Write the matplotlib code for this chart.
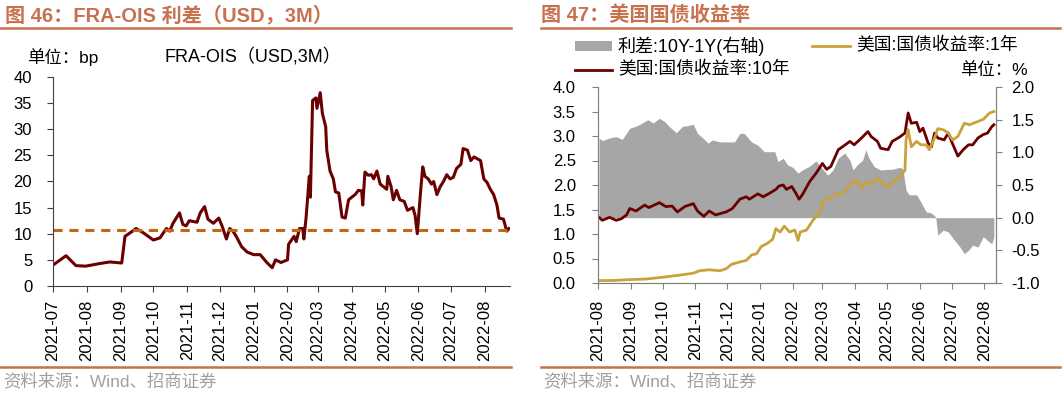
import numpy as np
import pandas as pd
import matplotlib
matplotlib.use("Agg")
import matplotlib.pyplot as plt
import matplotlib.dates as mdates

plt.rcParams['font.family'] = ['Liberation Sans', 'Noto Sans CJK SC', 'DejaVu Sans']

# ---- Fig 46: FRA-OIS spread (USD, 3M), bp ----
fra_dates = [
    "2021-07-01", "2021-07-13", "2021-07-22", "2021-07-31", "2021-08-13", "2021-08-22",
    "2021-09-02", "2021-09-05", "2021-09-12", "2021-09-15", "2021-09-21", "2021-10-01",
    "2021-10-07", "2021-10-13", "2021-10-16", "2021-10-19", "2021-10-25", "2021-10-28",
    "2021-10-31", "2021-11-03", "2021-11-10", "2021-11-13", "2021-11-17", "2021-11-20",
    "2021-11-25", "2021-11-30", "2021-12-03", "2021-12-07", "2021-12-10", "2021-12-13",
    "2021-12-16", "2021-12-21", "2021-12-26", "2022-01-01", "2022-01-07", "2022-01-13",
    "2022-01-18", "2022-01-21", "2022-01-26", "2022-02-01", "2022-02-02", "2022-02-07",
    "2022-02-09", "2022-02-12", "2022-02-15", "2022-02-16", "2022-02-18", "2022-02-21",
    "2022-02-22", "2022-02-24", "2022-02-27", "2022-02-28", "2022-03-03", "2022-03-05",
    "2022-03-08", "2022-03-09", "2022-03-12", "2022-03-15", "2022-03-17", "2022-03-20",
    "2022-03-23", "2022-03-26", "2022-03-29", "2022-04-01", "2022-04-04", "2022-04-07",
    "2022-04-10", "2022-04-11", "2022-04-13", "2022-04-16", "2022-04-19", "2022-04-21",
    "2022-04-24", "2022-04-27", "2022-04-30", "2022-05-03", "2022-05-04", "2022-05-07",
    "2022-05-09", "2022-05-12", "2022-05-15", "2022-05-19", "2022-05-22", "2022-05-27",
    "2022-05-29", "2022-05-31", "2022-06-03", "2022-06-05", "2022-06-07", "2022-06-10",
    "2022-06-13", "2022-06-15", "2022-06-18", "2022-06-21", "2022-06-24", "2022-06-27",
    "2022-06-30", "2022-07-03", "2022-07-06", "2022-07-10", "2022-07-12", "2022-07-16",
    "2022-07-19", "2022-07-22", "2022-07-28", "2022-07-31", "2022-08-03", "2022-08-06",
    "2022-08-09", "2022-08-12", "2022-08-14", "2022-08-18", "2022-08-21", "2022-08-23",
]
fra_vals = [
    4.0, 5.8, 3.9, 3.8, 4.3, 4.6,
    4.4, 9.5, 10.5, 11.0, 10.3, 8.8,
    9.2, 11.0, 10.5, 12.0, 14.0, 11.8,
    11.5, 12.5, 12.2, 14.0, 15.2, 12.8,
    12.0, 13.0, 11.5, 9.0, 11.0, 10.5,
    9.5, 7.5, 6.5, 6.0, 6.0, 4.5,
    3.5, 5.0, 4.5, 5.0, 8.0, 9.5,
    8.5, 11.0, 11.0, 9.0, 13.0, 21.0,
    17.0, 35.5, 36.0, 34.0, 37.0, 33.0,
    30.5, 26.0, 22.0, 20.5, 18.0, 17.8,
    13.2, 13.0, 16.5, 17.0, 17.5, 18.3,
    18.2, 15.5, 21.8, 21.2, 21.3, 20.5,
    22.0, 19.5, 19.0, 18.5, 21.0, 19.0,
    16.5, 18.3, 16.5, 16.2, 14.5, 15.0,
    13.5, 10.0, 18.0, 22.8, 21.0, 20.5,
    19.5, 20.0, 17.5, 19.0, 20.0, 21.3,
    20.5, 20.8, 22.5, 23.3, 26.3, 26.0,
    24.0, 24.7, 24.0, 20.5, 19.8, 18.5,
    17.5, 15.5, 13.0, 12.8, 10.5, 11.0,
]
fra_ref = 10.8

# ---- Fig 47: US Treasury yields, % ----
y10_dates = [
    "2021-08-02", "2021-08-05", "2021-08-12", "2021-08-18", "2021-08-23", "2021-08-28",
    "2021-08-31", "2021-09-06", "2021-09-14", "2021-09-18", "2021-09-28", "2021-10-04",
    "2021-10-10", "2021-10-15", "2021-10-22", "2021-10-30", "2021-11-03", "2021-11-09",
    "2021-11-14", "2021-11-20", "2021-11-30", "2021-12-06", "2021-12-13", "2021-12-19",
    "2021-12-22", "2021-12-30", "2022-01-04", "2022-01-10", "2022-01-16", "2022-01-19",
    "2022-01-23", "2022-01-26", "2022-01-31", "2022-02-04", "2022-02-07", "2022-02-10",
    "2022-02-17", "2022-02-23", "2022-03-01", "2022-03-05", "2022-03-09", "2022-03-16",
    "2022-03-20", "2022-03-27", "2022-03-31", "2022-04-07", "2022-04-13", "2022-04-16",
    "2022-04-22", "2022-04-25", "2022-05-02", "2022-05-06", "2022-05-13", "2022-05-18",
    "2022-05-21", "2022-05-24", "2022-05-29", "2022-06-01", "2022-06-04", "2022-06-09",
    "2022-06-12", "2022-06-15", "2022-06-18", "2022-06-24", "2022-06-28", "2022-07-01",
    "2022-07-07", "2022-07-12", "2022-07-17", "2022-07-21", "2022-07-26", "2022-07-31",
    "2022-08-04", "2022-08-08", "2022-08-10",
]
y10_vals = [
    1.34, 1.28, 1.34, 1.28, 1.31, 1.39,
    1.52, 1.47, 1.59, 1.54, 1.64, 1.56,
    1.57, 1.45, 1.56, 1.62, 1.47, 1.36,
    1.47, 1.39, 1.45, 1.52, 1.71, 1.76,
    1.71, 1.82, 1.76, 1.83, 1.91, 1.98,
    2.00, 1.91, 1.97, 1.83, 1.71, 1.80,
    2.07, 2.24, 2.44, 2.32, 2.38, 2.72,
    2.78, 2.89, 2.82, 2.96, 3.09, 2.99,
    2.89, 2.75, 2.72, 2.89, 2.98, 3.06,
    3.47, 3.26, 3.28, 3.09, 3.16, 2.85,
    2.78, 3.06, 2.96, 2.92, 3.06, 2.89,
    2.59, 2.72, 2.82, 2.82, 2.96, 3.03,
    3.06, 3.19, 3.23,
]
y1_dates = [
    "2021-08-02", "2021-08-15", "2021-08-31", "2021-09-15", "2021-10-02", "2021-10-17",
    "2021-10-30", "2021-11-05", "2021-11-14", "2021-11-24", "2021-11-30", "2021-12-05",
    "2021-12-13", "2021-12-19", "2021-12-24", "2021-12-29", "2022-01-02", "2022-01-08",
    "2022-01-13", "2022-01-16", "2022-01-20", "2022-01-24", "2022-01-29", "2022-02-03",
    "2022-02-06", "2022-02-08", "2022-02-14", "2022-02-20", "2022-02-26", "2022-03-02",
    "2022-03-08", "2022-03-13", "2022-03-19", "2022-03-22", "2022-03-28", "2022-04-02",
    "2022-04-07", "2022-04-11", "2022-04-18", "2022-04-22", "2022-04-27", "2022-05-02",
    "2022-05-08", "2022-05-13", "2022-05-18", "2022-05-19", "2022-05-21", "2022-05-24",
    "2022-05-29", "2022-06-02", "2022-06-07", "2022-06-10", "2022-06-15", "2022-06-18",
    "2022-06-23", "2022-06-28", "2022-07-02", "2022-07-07", "2022-07-13", "2022-07-18",
    "2022-07-24", "2022-07-31", "2022-08-06", "2022-08-10",
]
y1_vals = [
    0.05, 0.05, 0.07, 0.08, 0.12, 0.16,
    0.20, 0.25, 0.27, 0.25, 0.29, 0.38,
    0.43, 0.46, 0.57, 0.60, 0.74, 0.81,
    0.89, 1.11, 1.04, 1.16, 1.04, 1.08,
    0.87, 1.04, 1.08, 1.28, 1.42, 1.69,
    1.73, 1.80, 1.83, 1.86, 2.03, 2.10,
    1.93, 2.05, 2.03, 2.14, 2.03, 1.96,
    2.10, 2.16, 2.30, 2.92, 3.13, 2.78,
    2.89, 2.82, 2.82, 2.72, 2.96, 3.15,
    3.13, 3.06, 2.92, 2.99, 3.26, 3.23,
    3.28, 3.34, 3.47, 3.50,
]
spread_dates = [
    "2021-08-02", "2021-08-05", "2021-08-12", "2021-08-18", "2021-08-24", "2021-08-31",
    "2021-09-06", "2021-09-12", "2021-09-17", "2021-09-22", "2021-09-28", "2021-10-03",
    "2021-10-07", "2021-10-14", "2021-10-20", "2021-10-25", "2021-10-30", "2021-11-03",
    "2021-11-08", "2021-11-13", "2021-11-17", "2021-11-24", "2021-12-03", "2021-12-08",
    "2021-12-13", "2021-12-17", "2021-12-24", "2021-12-30", "2022-01-05", "2022-01-15",
    "2022-01-18", "2022-01-23", "2022-01-27", "2022-02-01", "2022-02-06", "2022-02-10",
    "2022-02-17", "2022-02-23", "2022-02-28", "2022-03-06", "2022-03-11", "2022-03-16",
    "2022-03-22", "2022-03-27", "2022-03-30", "2022-04-03", "2022-04-08", "2022-04-11",
    "2022-04-14", "2022-04-19", "2022-04-25", "2022-05-02", "2022-05-06", "2022-05-13",
    "2022-05-16", "2022-05-19", "2022-05-22", "2022-05-29", "2022-06-02", "2022-06-07",
    "2022-06-12", "2022-06-16", "2022-06-18", "2022-06-23", "2022-06-28", "2022-07-04",
    "2022-07-09", "2022-07-13", "2022-07-17", "2022-07-21", "2022-07-26", "2022-07-31",
    "2022-08-04", "2022-08-08", "2022-08-10",
]
spread_vals = [
    1.22, 1.18, 1.22, 1.24, 1.20, 1.37,
    1.40, 1.45, 1.50, 1.45, 1.52, 1.47,
    1.40, 1.30, 1.40, 1.41, 1.43, 1.29,
    1.22, 1.14, 1.19, 1.16, 1.16, 1.16,
    1.29, 1.29, 1.16, 1.11, 1.01, 1.01,
    0.86, 0.91, 0.81, 0.77, 0.68, 0.73,
    0.79, 0.87, 0.77, 0.65, 0.73, 0.91,
    0.99, 0.88, 0.73, 0.81, 0.88, 1.04,
    0.91, 0.78, 0.73, 0.74, 0.74, 0.77,
    0.75, 0.42, 0.35, 0.35, 0.24, 0.09,
    0.07, 0.01, -0.27, -0.19, -0.22, -0.35,
    -0.45, -0.55, -0.50, -0.42, -0.45, -0.29,
    -0.35, -0.40, -0.29,
]

title_color = "#C8714F"
maroon = "#6B0000"
gold = "#C9A23C"
grey_fill = "#A6A6A6"
dash_color = "#C8650F"

fig = plt.figure(figsize=(10.64, 3.93), dpi=100)
W, H = 1064, 393

def px(x0, y0, x1, y1):
    return [x0 / W, 1 - y1 / H, (x1 - x0) / W, (y1 - y0) / H]

# header / footer decorations
fig.text(5 / W, 1 - 15 / H, "图 46：FRA-OIS 利差（USD，3M）", color=title_color,
         fontsize=14.5, fontweight="bold", va="center", ha="left")
fig.text(541 / W, 1 - 15 / H, "图 47：美国国债收益率", color=title_color,
         fontsize=14.5, fontweight="bold", va="center", ha="left")
for x0, x1 in [(0, 511), (541, 1060)]:
    fig.add_artist(plt.Line2D([x0 / W, x1 / W], [1 - 28 / H] * 2, color=title_color, lw=1.8))
    fig.add_artist(plt.Line2D([x0 / W, x1 / W], [1 - 367 / H] * 2, color=title_color, lw=1.8))
fig.text(3 / W, 1 - 381 / H, "资料来源：Wind、招商证券", color="#A0A0A0", fontsize=12.5,
         va="center", ha="left")
fig.text(543 / W, 1 - 381 / H, "资料来源：Wind、招商证券", color="#A0A0A0", fontsize=12.5,
         va="center", ha="left")

# ---- left chart ----
ax = fig.add_axes(px(53, 77, 510, 286))
fd = pd.to_datetime(fra_dates)
ax.plot(fd, fra_vals, color=maroon, lw=2.2, solid_joinstyle="round")
ax.axhline(fra_ref, color=dash_color, lw=2.2, dashes=(3, 2.2))
ax.set_ylim(0, 40)
ax.set_yticks(np.arange(0, 41, 5))
ax.set_xlim(pd.Timestamp("2021-07-01"), pd.Timestamp("2022-08-24"))
ax.xaxis.set_major_locator(mdates.MonthLocator())
ax.xaxis.set_major_formatter(mdates.DateFormatter("%Y-%m"))
for s in ["top", "right"]:
    ax.spines[s].set_visible(False)
for s in ["left", "bottom"]:
    ax.spines[s].set_color("#404040")
    ax.spines[s].set_linewidth(0.8)
ax.tick_params(axis="both", labelsize=12, direction="out", length=4, width=0.8, color="#404040")
ax.tick_params(axis="y", pad=11)
ax.tick_params(axis="x", rotation=90, pad=6)
fig.text(27 / W, 1 - 57 / H, "单位：bp", fontsize=12.5, va="center", ha="left")
fig.text(165 / W, 1 - 57 / H, "FRA-OIS（USD,3M）", fontsize=13, va="center", ha="left")

# ---- right chart ----
axl = fig.add_axes(px(598, 87, 996, 283))
axr = axl.twinx()
axl.set_zorder(2)
axr.set_zorder(1)
axl.patch.set_visible(False)

sd = pd.to_datetime(spread_dates)
axr.fill_between(sd, 0, spread_vals, color=grey_fill, lw=0)
axr.set_ylim(-1, 2)
axr.set_yticks(np.arange(-1, 2.01, 0.5))
axr.yaxis.set_major_formatter(matplotlib.ticker.FormatStrFormatter("%.1f"))

axl.plot(pd.to_datetime(y10_dates), y10_vals, color=maroon, lw=2.0)
axl.plot(pd.to_datetime(y1_dates), y1_vals, color=gold, lw=2.0)
axl.set_ylim(0, 4)
axl.set_yticks(np.arange(0, 4.01, 0.5))
axl.yaxis.set_major_formatter(matplotlib.ticker.FormatStrFormatter("%.1f"))
axl.set_xlim(pd.Timestamp("2021-08-01"), pd.Timestamp("2022-08-12"))
axl.xaxis.set_major_locator(mdates.MonthLocator())
axl.xaxis.set_major_formatter(mdates.DateFormatter("%Y-%m"))

for a in (axl, axr):
    a.spines["top"].set_visible(False)
    for s in ["left", "right", "bottom"]:
        a.spines[s].set_color("#808080")
        a.spines[s].set_linewidth(0.8)
    a.tick_params(axis="both", labelsize=12, direction="out", length=4, width=0.8, color="#808080")
axl.tick_params(axis="y", pad=12)
axr.tick_params(axis="y", pad=7)
axl.tick_params(axis="x", rotation=90, pad=8)

# legend (hand-placed like the source)
fig.add_artist(plt.Rectangle((575 / W, 1 - 51 / H), 37 / W, 10 / H, color=grey_fill, lw=0))
fig.text(618 / W, 1 - 46 / H, "利差:10Y-1Y(右轴)", fontsize=13, va="center", ha="left")
fig.add_artist(plt.Line2D([812 / W, 850 / W], [1 - 46 / H] * 2, color=gold, lw=2))
fig.text(856 / W, 1 - 46 / H, "美国:国债收益率:1年", fontsize=12.8, va="center", ha="left")
fig.add_artist(plt.Line2D([575 / W, 612 / W], [1 - 70 / H] * 2, color=maroon, lw=2))
fig.text(618 / W, 1 - 70 / H, "美国:国债收益率:10年", fontsize=12.8, va="center", ha="left")
fig.text(1028 / W, 1 - 70 / H, "单位：%", fontsize=12.5, va="center", ha="right")

fig.savefig("out.png", dpi=100)
